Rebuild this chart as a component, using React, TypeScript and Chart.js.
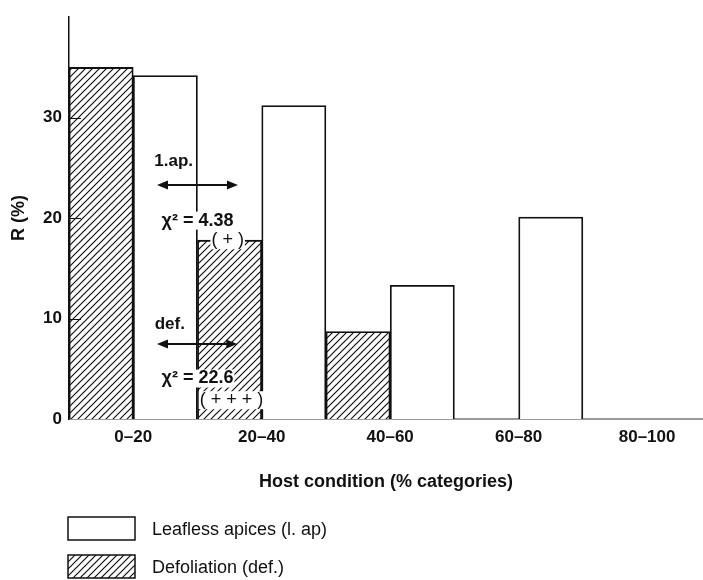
import React, { useEffect, useRef } from 'react';
import { Chart, registerables } from 'chart.js';

Chart.register(...registerables);

// ---- data ----
const categories = ['0–20', '20–40', '40–60', '60–80', '80–100'];
const leaflessApices = [34.2, 31.2, 13.3, 20.1, 0];
const defoliation = [35.0, 17.8, 8.7, 0, 0];
const yTickValues = [0, 10, 20, 30];
const yMax = 40;
const seriesLabels = ['Leafless apices (l. ap)', 'Defoliation (def.)'];
const xTitle = 'Host condition (% categories)';
const yTitle = 'R (%)';

// annotation texts (x in bar-slot units, y in value units)
const noteTexts = ['1.ap.', 'χ² = 4.38', '( + )', 'def.', 'χ² = 22.6', '( + + + )'];
const noteX = [1.13, 1.5, 1.97, 1.07, 1.5, 2.03];
const noteY = [25.7, 19.75, 17.8, 9.43, 4.03, 1.87];
const noteBold = [true, true, false, true, true, false];
const noteSize = [17, 18, 18, 17, 18, 18];
const noteBg = [false, true, true, false, true, true];
const arrowFrom = [0.87, 0.87];
const arrowTo = [2.13, 2.12];
const arrowY = [23.3, 7.47];

const FONT = "'Liberation Sans', Arial, Helvetica, sans-serif";
const INK = '#111';

export default function App() {
  const ref = useRef<HTMLCanvasElement>(null);

  useEffect(() => {
    const canvas = ref.current!;
    const ctx = canvas.getContext('2d')!;

    // hatch pattern
    const pc = document.createElement('canvas');
    pc.width = 7;
    pc.height = 7;
    const p = pc.getContext('2d')!;
    p.fillStyle = '#fff';
    p.fillRect(0, 0, 7, 7);
    p.strokeStyle = INK;
    p.lineWidth = 1.2;
    p.beginPath();
    p.moveTo(-1, 8);
    p.lineTo(8, -1);
    p.moveTo(-1, 1);
    p.lineTo(1, -1);
    p.moveTo(6, 8);
    p.lineTo(8, 6);
    p.stroke();
    const hatch = ctx.createPattern(pc, 'repeat')!;

    const defPts = defoliation.map((v, i) => ({ x: 2 * i, y: v > 0 ? v : null }));
    const lapPts = leaflessApices.map((v, i) => ({ x: 2 * i + 1, y: v > 0 ? v : null }));

    const drawArrowHead = (c: CanvasRenderingContext2D, x: number, y: number, dir: number) => {
      c.beginPath();
      c.moveTo(x, y);
      c.lineTo(x - dir * 11, y - 4.5);
      c.lineTo(x - dir * 11, y + 4.5);
      c.closePath();
      c.fill();
    };

    const annotPlugin = {
      id: 'annot',
      afterDatasetsDraw(chart: any) {
        const c: CanvasRenderingContext2D = chart.ctx;
        const xs = chart.scales.x;
        const ys = chart.scales.y;
        const area = chart.chartArea;
        c.save();
        // inward y ticks
        c.strokeStyle = INK;
        c.lineWidth = 1;
        yTickValues.forEach((v) => {
          if (v === 0) return;
          const py = Math.round(ys.getPixelForValue(v)) + 0.5;
          c.beginPath();
          c.moveTo(area.left, py);
          c.lineTo(area.left + 12, py);
          c.stroke();
        });
        // arrows
        c.lineWidth = 2;
        c.fillStyle = INK;
        arrowY.forEach((v, i) => {
          const py = ys.getPixelForValue(v);
          const x1 = xs.getPixelForValue(arrowFrom[i]);
          const x2 = xs.getPixelForValue(arrowTo[i]);
          c.beginPath();
          c.moveTo(x1 + 6, py);
          c.lineTo(x2 - 6, py);
          c.stroke();
          drawArrowHead(c, x1, py, -1);
          drawArrowHead(c, x2, py, 1);
        });
        // texts
        c.textAlign = 'center';
        c.textBaseline = 'middle';
        noteTexts.forEach((t, i) => {
          c.font = `${noteBold[i] ? 'bold ' : ''}${noteSize[i]}px ${FONT}`;
          const w = c.measureText(t).width;
          const px = xs.getPixelForValue(noteX[i]);
          const py = ys.getPixelForValue(noteY[i]);
          if (noteBg[i]) {
            c.fillStyle = '#fff';
            c.fillRect(px - w / 2 - 1, py - 9, w + 2, 18);
          }
          c.fillStyle = INK;
          c.fillText(t, px, py);
        });
        c.restore();
      },
      afterDraw(chart: any) {
        const c: CanvasRenderingContext2D = chart.ctx;
        const left = chart.chartArea.left - 1;
        const fills = ['#fff', hatch];
        const tops = [517, 555];
        c.save();
        seriesLabels.forEach((lab, i) => {
          c.fillStyle = fills[i] as any;
          c.fillRect(left, tops[i], 67, 23);
          c.strokeStyle = INK;
          c.lineWidth = 1.5;
          c.strokeRect(left, tops[i], 67, 23);
          c.fillStyle = INK;
          c.font = `18px ${FONT}`;
          c.textAlign = 'left';
          c.textBaseline = 'middle';
          c.fillText(lab, left + 84, tops[i] + 13);
        });
        c.restore();
      },
    };

    const chart = new Chart(canvas, {
      type: 'bar',
      data: {
        datasets: [
          {
            label: seriesLabels[1],
            data: defPts as any,
            backgroundColor: hatch as any,
            borderColor: INK,
            borderWidth: 1.8,
            grouped: false,
            barPercentage: 1,
            categoryPercentage: 1,
          } as any,
          {
            label: seriesLabels[0],
            data: lapPts as any,
            backgroundColor: '#fff',
            borderColor: INK,
            borderWidth: 1.8,
            grouped: false,
            barPercentage: 1,
            categoryPercentage: 1,
          } as any,
        ],
      },
      options: {
        animation: false,
        responsive: true,
        maintainAspectRatio: false,
        layout: { padding: { top: 12, bottom: 80, left: 0, right: 0 } },
        plugins: { legend: { display: false }, tooltip: { enabled: false } },
        scales: {
          x: {
            type: 'linear',
            min: -0.5,
            max: 9.37,
            offset: false,
            grid: { display: false, drawTicks: false, offset: false },
            border: { display: true, color: '#9a9a9a', width: 2 },
            afterBuildTicks: (s: any) => {
              s.ticks = categories.map((_, i) => ({ value: 2 * i + 0.5 }));
            },
            afterFit: (s: any) => {
              s.height = 81;
            },
            ticks: {
              padding: 8,
              maxRotation: 0,
              autoSkip: false,
              color: INK,
              font: { family: FONT, size: 17, weight: 'bold' },
              callback: (_v: any, i: number) => categories[i],
            },
            title: {
              display: true,
              text: xTitle,
              color: INK,
              font: { family: FONT, size: 18, weight: 'bold' },
              padding: { top: 0, bottom: 7 },
            },
          } as any,
          y: {
            min: 0,
            max: yMax,
            grid: { display: false, drawTicks: false },
            border: { display: true, color: INK, width: 1.5 },
            afterBuildTicks: (s: any) => {
              s.ticks = yTickValues.map((v) => ({ value: v }));
            },
            afterFit: (s: any) => {
              s.width = 69;
            },
            ticks: {
              padding: 7,
              color: INK,
              font: { family: FONT, size: 17, weight: 'bold' },
            },
            title: {
              display: true,
              text: yTitle,
              color: INK,
              font: { family: FONT, size: 18, weight: 'bold' },
              padding: { top: 8, bottom: 0 },
            },
          } as any,
        },
      },
      plugins: [annotPlugin as any],
    });

    return () => chart.destroy();
  }, []);

  return (
    <div style={{ position: 'fixed', left: 0, top: 0, width: 703, height: 580, background: '#fff' }}>
      <canvas ref={ref} />
    </div>
  );
}
